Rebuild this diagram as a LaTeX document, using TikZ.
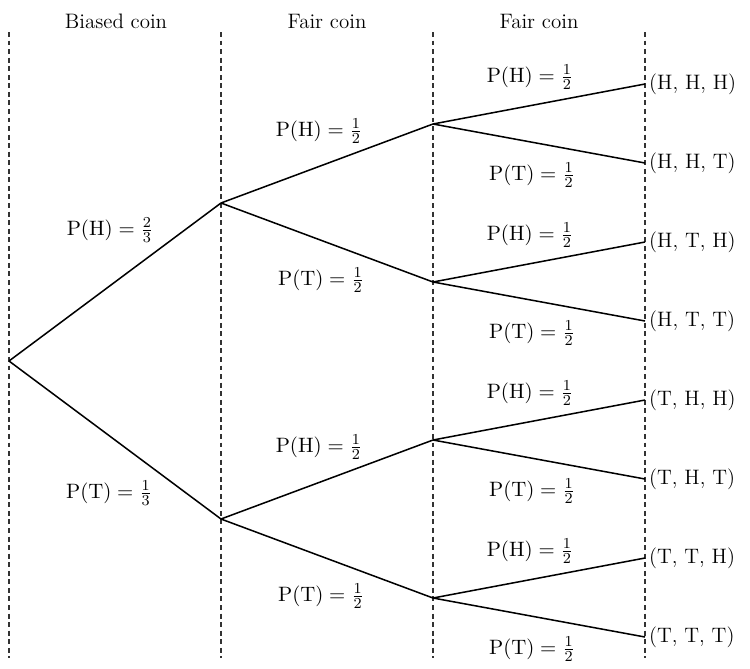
\documentclass[tikz,border=0pt]{standalone}
\usepackage{tikz}
\usetikzlibrary{positioning}

\begin{document}
\begin{tikzpicture}[
    x=0.0185cm, y=-0.0185cm,
    font=\fontsize{11}{13}\selectfont,
    titre/.style={anchor=center, inner sep=1pt},
    proba/.style={anchor=center, inner sep=1pt},
    issue/.style={anchor=west, inner sep=1pt},
    branche/.style={-, draw=black, thick},
    repere/.style={-, draw=black!80, semithick, dash pattern=on 2.6pt off 1.9pt}
  ]
    \useasboundingbox (0,0) rectangle (750,668);
    % colonnes en pointilles
    \coordinate (hauta) at (9,32);   \coordinate (basa) at (9,658);
    \coordinate (hautb) at (221,32); \coordinate (basb) at (221,658);
    \coordinate (hautc) at (433,32); \coordinate (basc) at (433,658);
    \coordinate (hautd) at (645,32); \coordinate (basd) at (645,658);
    \draw[repere] (hauta) -- (basa);
    \draw[repere] (hautb) -- (basb);
    \draw[repere] (hautc) -- (basc);
    \draw[repere] (hautd) -- (basd);
    \node[titre] (biais) at (116,21) {Biased coin};
    \node[titre] (juste1) at (327,21) {Fair coin};
    \node[titre] (juste2) at (539,21) {Fair coin};
    % sommets de l'arbre
    \coordinate (racine) at (9,361);
    \coordinate (h) at (221,203);
    \coordinate (t) at (221,519);
    \coordinate (hh) at (433,124);
    \coordinate (ht) at (433,282);
    \coordinate (th) at (433,440);
    \coordinate (tt) at (433,598);
    \coordinate (hhh) at (645,84);
    \coordinate (hht) at (645,163);
    \coordinate (hth) at (645,242);
    \coordinate (htt) at (645,321);
    \coordinate (thh) at (645,400);
    \coordinate (tht) at (645,479);
    \coordinate (tth) at (645,558);
    \coordinate (ttt) at (645,637);
    \draw[branche] (racine) -- (h);
    \draw[branche] (racine) -- (t);
    \draw[branche] (h) -- (hh);
    \draw[branche] (h) -- (ht);
    \draw[branche] (t) -- (th);
    \draw[branche] (t) -- (tt);
    \draw[branche] (hh) -- (hhh);
    \draw[branche] (hh) -- (hht);
    \draw[branche] (ht) -- (hth);
    \draw[branche] (ht) -- (htt);
    \draw[branche] (th) -- (thh);
    \draw[branche] (th) -- (tht);
    \draw[branche] (tt) -- (tth);
    \draw[branche] (tt) -- (ttt);
    % issues
    \node[issue, right=1pt of hhh] (ihhh) {(H, H, H)};
    \node[issue, right=1pt of hht] (ihht) {(H, H, T)};
    \node[issue, right=1pt of hth] (ihth) {(H, T, H)};
    \node[issue, right=1pt of htt] (ihtt) {(H, T, T)};
    \node[issue, right=1pt of thh] (ithh) {(T, H, H)};
    \node[issue, right=1pt of tht] (itht) {(T, H, T)};
    \node[issue, right=1pt of tth] (itth) {(T, T, H)};
    \node[issue, right=1pt of ttt] (ittt) {(T, T, T)};
    % probabilites
    \node[proba] (ph) at (110,230) {$\mathrm{P(H)} = \frac{2}{3}$};
    \node[proba] (pt) at (109,493) {$\mathrm{P(T)} = \frac{1}{3}$};
    \node[proba] (phh) at (319,131) {$\mathrm{P(H)} = \frac{1}{2}$};
    \node[proba] (pht) at (321,280) {$\mathrm{P(T)} = \frac{1}{2}$};
    \node[proba] (pth) at (319,447) {$\mathrm{P(H)} = \frac{1}{2}$};
    \node[proba] (ptt) at (321,596) {$\mathrm{P(T)} = \frac{1}{2}$};
    \node[proba] (phhh) at (530,77) {$\mathrm{P(H)} = \frac{1}{2}$};
    \node[proba] (phht) at (532,175) {$\mathrm{P(T)} = \frac{1}{2}$};
    \node[proba] (phth) at (530,235) {$\mathrm{P(H)} = \frac{1}{2}$};
    \node[proba] (phtt) at (532,333) {$\mathrm{P(T)} = \frac{1}{2}$};
    \node[proba] (pthh) at (530,393) {$\mathrm{P(H)} = \frac{1}{2}$};
    \node[proba] (ptht) at (532,491) {$\mathrm{P(T)} = \frac{1}{2}$};
    \node[proba] (ptth) at (530,551) {$\mathrm{P(H)} = \frac{1}{2}$};
    \node[proba] (pttt) at (532,649) {$\mathrm{P(T)} = \frac{1}{2}$};
  \end{tikzpicture}
\end{document}
